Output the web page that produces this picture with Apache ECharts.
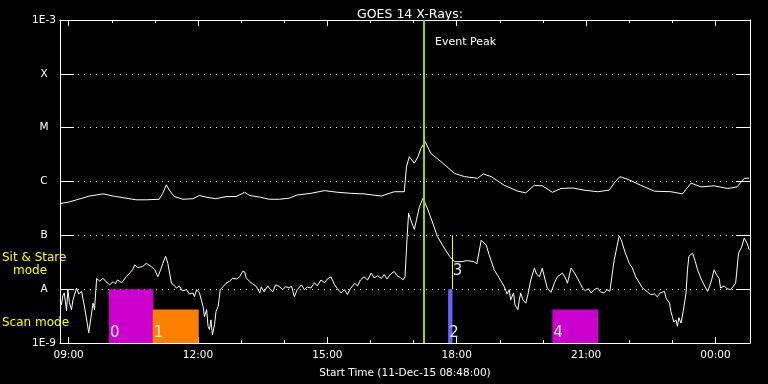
<!DOCTYPE html>
<html>
<head>
<meta charset="utf-8">
<script src="https://cdn.jsdelivr.net/npm/echarts@6/dist/echarts.min.js"></script>
<style>
html,body{margin:0;padding:0;background:#000;}
#chart{width:768px;height:384px;}
</style>
</head>
<body>
<div id="chart"></div>
<script>
// Time in minutes since 00:00 on 11-Dec-15; values are log10 of flux (W/m^2)
const xMin = 528;   // 08:48
const xMax = 1488;  // 00:48 next day
const majorTicks = [540, 720, 900, 1080, 1260, 1440];
const minorTicks = [540,600,660,720,780,840,900,960,1020,1080,1140,1200,1260,1320,1380,1440];
const yLevels = [-9, -8, -7, -6, -5, -4, -3];
const yLabels = ['1E-9', 'A', 'B', 'C', 'M', 'X', '1E-3'];

// Long channel (upper curve)
const longT = [528,541,551,569,588,602,620,634,648,666,
  671,676,680,687,699,713,722,731,745,759,
  773,785,792,806,819,833,847,858,877,896,
  914,933,951,975,993,1007,1010,1014,1021,1026,
  1030,1036,1044,1058,1077,1091,1109,1117,1128,1146,
  1165,1176,1188,1199,1213,1225,1241,1257,1276,1292,
  1299,1307,1320,1336,1355,1378,1394,1406,1420,1438,
  1457,1470,1480,1487];
const longE = [-6.41,-6.38,-6.34,-6.27,-6.23,-6.27,-6.31,-6.34,-6.34,-6.33,
  -6.22,-6.06,-6.16,-6.28,-6.33,-6.32,-6.26,-6.29,-6.32,-6.28,
  -6.28,-6.20,-6.26,-6.29,-6.33,-6.33,-6.31,-6.25,-6.22,-6.17,
  -6.20,-6.22,-6.23,-6.27,-6.19,-6.19,-5.73,-5.54,-5.66,-5.54,
  -5.39,-5.26,-5.48,-5.63,-5.85,-5.91,-5.94,-5.86,-5.91,-6.07,
  -6.18,-6.21,-6.07,-6.08,-6.20,-6.13,-6.12,-6.16,-6.19,-6.16,
  -6.03,-5.91,-5.97,-6.07,-6.18,-6.19,-6.23,-6.03,-6.10,-6.08,
  -6.13,-6.10,-5.94,-5.94];

// Short channel (lower curve)
const shortT = [528,530,532,534,537,539,541,544,546,551,
  554,558,561,564,568,571,574,576,579,583,
  588,592,597,602,605,608,614,620,625,629,
  632,636,639,643,648,650,655,660,664,668,
  671,675,678,683,686,690,694,698,704,708,
  713,715,718,722,727,729,732,734,736,738,
  740,743,745,748,751,753,759,764,768,774,
  778,782,785,787,792,796,801,806,808,812,
  817,819,824,828,833,838,842,847,850,854,
  858,864,868,872,877,882,886,891,896,900,
  905,910,914,919,924,928,932,938,942,946,
  951,956,961,965,970,975,979,983,988,993,
  997,1002,1005,1008,1011,1013,1017,1021,1024,1028,
  1033,1035,1040,1046,1053,1061,1070,1077,1086,1095,
  1104,1108,1114,1121,1125,1132,1139,1146,1150,1153,
  1155,1159,1161,1165,1167,1169,1172,1176,1179,1183,
  1188,1191,1195,1199,1203,1206,1211,1216,1220,1227,
  1231,1234,1239,1243,1248,1252,1255,1259,1263,1267,
  1271,1276,1280,1285,1289,1293,1299,1306,1309,1314,
  1320,1324,1329,1334,1338,1345,1350,1355,1359,1363,
  1369,1371,1376,1378,1380,1382,1385,1387,1389,1392,
  1395,1399,1401,1403,1408,1412,1415,1420,1424,1429,
  1432,1435,1438,1441,1445,1447,1452,1456,1461,1464,
  1468,1472,1476,1480,1484,1487];
const shortE = [-8.20,-8.29,-8.12,-8.07,-8.40,-8.01,-8.25,-8.38,-8.20,-7.98,
  -8.09,-8.04,-8.25,-8.48,-8.81,-8.53,-8.26,-8.38,-7.80,-7.85,
  -7.80,-7.86,-7.92,-7.86,-7.90,-7.83,-7.88,-7.77,-7.70,-7.64,
  -7.55,-7.60,-7.59,-7.58,-7.52,-7.51,-7.58,-7.64,-7.77,-7.64,
  -7.52,-7.39,-7.52,-7.89,-7.92,-7.98,-7.94,-8.03,-8.01,-8.09,
  -8.07,-8.14,-8.01,-8.07,-8.32,-8.51,-8.38,-8.69,-8.75,-8.57,
  -8.85,-8.66,-8.42,-8.32,-8.01,-7.99,-7.89,-7.85,-7.80,-7.81,
  -7.77,-7.67,-7.68,-7.79,-7.86,-7.90,-7.95,-8.07,-7.96,-8.05,
  -7.94,-7.98,-8.05,-7.92,-7.95,-8.01,-7.95,-7.98,-7.94,-8.14,
  -8.01,-7.92,-8.01,-7.96,-7.98,-7.88,-7.94,-7.83,-7.88,-7.81,
  -7.77,-7.92,-7.99,-8.07,-8.01,-8.10,-7.99,-7.89,-7.94,-7.83,
  -7.77,-7.83,-7.70,-7.79,-7.75,-7.80,-7.73,-7.81,-7.72,-7.67,
  -7.75,-7.79,-7.83,-7.77,-7.02,-6.59,-6.75,-6.89,-6.71,-6.47,
  -6.31,-6.34,-6.53,-6.75,-7.02,-7.20,-7.39,-7.49,-7.49,-7.47,
  -7.49,-7.53,-7.09,-7.18,-7.36,-7.64,-7.79,-7.95,-8.09,-8.01,
  -8.20,-8.07,-8.29,-8.38,-8.20,-8.07,-8.20,-8.26,-8.10,-7.83,
  -7.61,-7.72,-7.77,-7.61,-7.83,-7.98,-8.06,-7.88,-7.77,-7.70,
  -7.79,-7.89,-7.61,-7.68,-7.80,-7.90,-7.98,-8.03,-7.99,-8.07,
  -8.01,-7.98,-8.05,-8.07,-8.01,-8.04,-7.46,-7.01,-7.09,-7.31,
  -7.52,-7.60,-7.77,-7.88,-7.97,-8.05,-8.10,-8.09,-8.14,-8.07,
  -8.04,-8.16,-8.26,-8.42,-8.51,-8.61,-8.57,-8.69,-8.53,-8.63,
  -8.42,-8.07,-7.64,-7.39,-7.33,-7.49,-7.64,-7.81,-7.92,-8.04,
  -7.94,-7.81,-7.64,-7.72,-7.80,-7.98,-7.94,-7.99,-8.01,-7.96,
  -7.89,-7.33,-7.23,-7.05,-7.15,-7.27];

// Observation events
const eventIds    = ['0', '1', '2', '3', '4'];
const eventKind   = ['box', 'box', 'box', 'line', 'box'];
const eventStart  = [596, 657, 1068, 1073, 1213];
const eventEnd    = [658, 721, 1074, 1073, 1277];
const eventLow    = [-9, -9, -9, -8, -9];
const eventHigh   = [-8, -8.38, -8, -7, -8.38];
const eventColors = ['#cc00cc', '#ff8000', '#6464ff', '#ffff00', '#cc00cc'];

const peakTime = 1034;

const FONT = 'DejaVu Sans';
const pad = n => (n < 10 ? '0' : '') + n;
const fmtTime = v => pad(Math.floor(v / 60) % 24) + ':' + pad(Math.round(v % 60));

const longData = longT.map((t, i) => [t, longE[i]]);
const shortData = shortT.map((t, i) => [t, shortE[i]]);
const eventData = eventIds.map((id, i) => [eventStart[i], eventEnd[i], eventLow[i], eventHigh[i]]);

const chart = echarts.init(document.getElementById('chart'), null, {renderer: 'canvas'});

function xAx(pos, ticks, len, withLine, withLabels) {
  return {
    type: 'value', position: pos, min: xMin, max: xMax, gridIndex: 0,
    axisLine: {show: withLine, lineStyle: {color: '#fff', width: 1}},
    axisTick: {show: true, inside: true, length: len, customValues: ticks, lineStyle: {color: '#fff', width: 1}},
    axisLabel: withLabels ? {show: true, customValues: ticks, formatter: fmtTime, color: '#fff', fontSize: 10.5, fontFamily: FONT, margin: 7} : {show: false},
    splitLine: {show: false}
  };
}

function yAx(pos, withLabels, withSplit) {
  return {
    type: 'value', position: pos, min: -9, max: -3, interval: 1,
    axisLine: {show: true, lineStyle: {color: '#fff', width: 1}},
    axisTick: {show: true, inside: true, length: 14, lineStyle: {color: '#fff', width: 1}},
    axisLabel: withLabels ? {
      show: true, color: '#fff', fontSize: 10.5, fontFamily: FONT, align: 'center', margin: 16,
      formatter: v => { const k = yLevels.indexOf(Math.round(v)); return k >= 0 ? yLabels[k] : ''; }
    } : {show: false},
    splitLine: withSplit ? {show: true, lineStyle: {color: '#fff', width: 1, type: [1, 5]}} : {show: false}
  };
}

const xAxes = [
  xAx('bottom', majorTicks, 6, true, true),
  xAx('bottom', minorTicks, 3, false, false),
  xAx('top', majorTicks, 6, true, false),
  xAx('top', minorTicks, 3, false, false)
];
xAxes[0].name = 'Start Time (11-Dec-15 08:48:00)';
xAxes[0].nameLocation = 'middle';
xAxes[0].nameGap = 25;
xAxes[0].nameTextStyle = {color: '#fff', fontSize: 10.5, fontFamily: FONT};

const option = {
  backgroundColor: '#000',
  animation: false,
  title: {
    text: 'GOES 14 X-Rays:', left: 405, top: 3, textAlign: 'center',
    textStyle: {color: '#fff', fontSize: 12.5, fontWeight: 'normal', fontFamily: FONT}
  },
  grid: {left: 60, right: 18, top: 20, bottom: 41, containLabel: false},
  xAxis: xAxes,
  yAxis: [yAx('left', true, true), yAx('right', false, false)],
  graphic: [
    {type: 'text', left: 2, top: 252, style: {text: 'Sit & Stare', fill: '#ffff00', font: '12px ' + FONT}},
    {type: 'text', left: 13, top: 265, style: {text: 'mode', fill: '#ffff00', font: '12px ' + FONT}},
    {type: 'text', left: 2, top: 317, style: {text: 'Scan mode', fill: '#ffff00', font: '12px ' + FONT}},
    {type: 'text', left: 435, top: 37, style: {text: 'Event Peak', fill: '#ffffff', font: '11px ' + FONT}}
  ],
  series: [
    {
      type: 'custom', name: 'events', xAxisIndex: 0, yAxisIndex: 0, z: 1,
      data: eventData,
      renderItem: function (params, api) {
        const i = params.dataIndex;
        const p1 = api.coord([api.value(0), api.value(3)]);
        const p2 = api.coord([api.value(1), api.value(2)]);
        const children = [];
        if (eventKind[i] === 'line') {
          children.push({type: 'line', shape: {x1: Math.round(p1[0]) + 0.5, y1: p1[1], x2: Math.round(p1[0]) + 0.5, y2: p2[1]},
            style: {stroke: eventColors[i], lineWidth: 1}});
          children.push({type: 'text', style: {text: eventIds[i], x: p1[0] + 1, y: p2[1] - 11, textAlign: 'left', textVerticalAlign: 'bottom',
            fill: '#e8e8e8', font: '15px ' + FONT}});
        } else {
          children.push({type: 'rect', shape: {x: p1[0], y: p1[1], width: Math.max(p2[0] - p1[0], 1), height: p2[1] - p1[1]},
            style: {fill: eventColors[i]}});
          children.push({type: 'text', style: {text: eventIds[i], x: p1[0] + 1, y: p2[1] - 2, textAlign: 'left', textVerticalAlign: 'bottom',
            fill: '#e8e8e8', font: '15px ' + FONT}});
        }
        return {type: 'group', children: children};
      }
    },
    {
      type: 'line', name: 'long', data: longData, xAxisIndex: 0, yAxisIndex: 0, z: 3,
      showSymbol: false, symbol: 'none', lineStyle: {color: '#fff', width: 1}, itemStyle: {color: '#fff'},
      markLine: {
        silent: true, symbol: 'none', z: 5, animation: false,
        lineStyle: {color: '#a4d400', width: 2, type: 'solid'},
        label: {show: false},
        data: [{xAxis: peakTime}]
      }
    },
    {
      type: 'line', name: 'short', data: shortData, xAxisIndex: 0, yAxisIndex: 0, z: 3,
      showSymbol: false, symbol: 'none', lineStyle: {color: '#fff', width: 1}, itemStyle: {color: '#fff'}
    }
  ]
};
chart.setOption(option);
</script>
</body>
</html>
